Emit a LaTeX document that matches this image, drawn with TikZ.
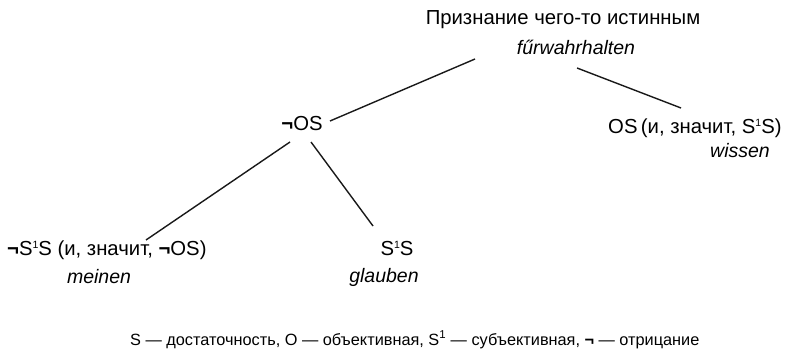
\documentclass[tikz,border=0pt]{standalone}
\usepackage{fontspec}
\setmainfont{Liberation Sans}
\newcommand{\negsym}{{\bfseries ¬}}
\newcommand{\supone}{\raisebox{0.62ex}{\fontsize{10.5}{11}\selectfont 1}}
\begin{document}
\begin{tikzpicture}[x=1pt,y=-1pt,
  lbl/.style={inner sep=0pt, anchor=base, font=\fontsize{20.3}{24}\selectfont},
  gl/.style={inner sep=0pt, anchor=base, font=\fontsize{19.5}{23}\selectfont\itshape},
  leg/.style={inner sep=0pt, anchor=base west, font=\fontsize{16.3}{19}\selectfont},
  edge/.style={line width=1.4pt, black!90}]
\useasboundingbox (0,0) rectangle (806,353);
\node[lbl] (top) at (563,25) {Признание чего-то истинным};
\node[gl] (topg) at (576,55) {fűrwahrhalten};
\node[lbl] (nos) at (302,130) {\negsym OS};
\node[lbl,anchor=base west] (os) at (608,133) {OS\thinspace(и, значит, S\supone S)};
\node[gl,anchor=base west] (osg) at (710,157) {wissen};
\node[lbl,anchor=base west] (mein) at (7,255) {\negsym S\supone S (и, значит, \negsym OS)};
\node[gl] (meing) at (99,283) {meinen};
\node[lbl] (glb) at (397,255) {S\supone S};
\node[gl] (glbg) at (384,282) {glauben};
\node[leg] (legend) at (130,345) {S — достаточность, O — объективная, S\textsuperscript{1} — субъективная, \negsym{} — отрицание};
\coordinate (a1) at (475,59);
\coordinate (a2) at (330,121);
\coordinate (b1) at (577,68);
\coordinate (b2) at (681,108);
\coordinate (c1) at (290,142);
\coordinate (c2) at (146,240);
\coordinate (d1) at (311,142);
\coordinate (d2) at (373,226);
\draw[edge] (a1) -- (a2);
\draw[edge] (b1) -- (b2);
\draw[edge] (c1) -- (c2);
\draw[edge] (d1) -- (d2);
\end{tikzpicture}
\end{document}
